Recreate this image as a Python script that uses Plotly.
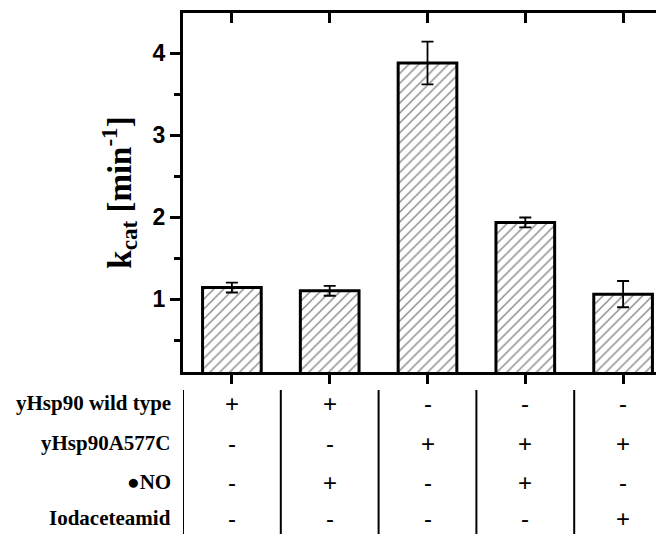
import plotly.graph_objects as go

# ---- data ----
conditions = [1, 2, 3, 4, 5]
kcat = [1.14, 1.10, 3.88, 1.935, 1.06]
kcat_err = [0.06, 0.06, 0.26, 0.06, 0.16]

row_labels = ["yHsp90 wild type", "yHsp90A577C", "●NO", "Iodaceteamid"]
wild_type = ["+", "+", "-", "-", "-"]
mutant = ["-", "-", "+", "+", "+"]
nitric_oxide = ["-", "+", "-", "+", "-"]
iodo = ["-", "-", "-", "-", "+"]
table_rows = [wild_type, mutant, nitric_oxide, iodo]

y_ticks = [1, 2, 3, 4]

# ---- layout constants (page body has an 8px margin) ----
OFF = 8
W, H = 664, 534
ML, MT, MB, MR = 175, 5, 170, 0
plot_h = H - MT - MB
plot_w = W - ML - MR
x_range = [0.5, 5.5]
y_range = [0.11, 4.49]

fig = go.Figure()
fig.add_trace(go.Bar(
    x=conditions, y=kcat, width=0.6,
    marker=dict(color="white",
                line=dict(color="black", width=3),
                pattern=dict(shape="/", fgcolor="black", bgcolor="white",
                             size=7, solidity=0.18)),
    error_y=dict(type="data", array=kcat_err, visible=True,
                 color="black", thickness=1.8, width=6),
    showlegend=False,
))

axis_font = dict(family="Liberation Sans", size=23, color="black", weight="bold")

fig.update_layout(
    width=W, height=H,
    margin=dict(l=ML, r=MR, t=MT, b=MB, pad=0),
    paper_bgcolor="white", plot_bgcolor="white",
    xaxis=dict(range=x_range, tickvals=conditions, showticklabels=False,
               ticks="outside", ticklen=9, tickwidth=3, tickcolor="black",
               showline=True, linecolor="black", linewidth=3,
               showgrid=False, zeroline=False, fixedrange=True),
    xaxis2=dict(range=x_range, overlaying="x", side="top", anchor="y",
                tickvals=conditions, showticklabels=False,
                ticks="inside", ticklen=10, tickwidth=3, tickcolor="black",
                showline=True, linecolor="black", linewidth=3,
                showgrid=False, zeroline=False, fixedrange=True),
    yaxis=dict(range=y_range, tickvals=y_ticks, ticktext=[str(v) for v in y_ticks],
               ticks="outside", ticklen=10, tickwidth=3, tickcolor="black",
               minor=dict(dtick=0.5, tick0=0, ticks="outside", ticklen=6,
                          tickwidth=3, tickcolor="black"),
               tickfont=axis_font,
               showline=True, linecolor="black", linewidth=3,
               showgrid=False, zeroline=False, fixedrange=True,
               title=dict(text="k<sub>cat</sub> [min<sup>-1</sup>]",
                          font=dict(family="Liberation Serif", size=33,
                                    color="black", weight="bold"),
                          standoff=12)),
    yaxis2=dict(range=y_range, overlaying="y", side="right", anchor="x",
                tickvals=y_ticks, showticklabels=False,
                ticks="inside", ticklen=10, tickwidth=3, tickcolor="black",
                showline=False, showgrid=False, zeroline=False, fixedrange=True),
)

# invisible trace so the secondary axes render
fig.add_trace(go.Scatter(x=[None], y=[None], xaxis="x2", yaxis="y2",
                         showlegend=False, hoverinfo="skip"))

# ---- table under the plot ----
row_px = [403, 443, 482, 518]  # screen rows
label_font = dict(family="Liberation Serif", size=21, color="black", weight="bold")
sym_font = dict(family="Liberation Sans", size=24, color="black")
label_x = (173 - OFF - ML) / plot_w

def paper_y(screen_y):
    return (H - MB - (screen_y - OFF)) / plot_h

for r, (lab, vals) in enumerate(zip(row_labels, table_rows)):
    yp = paper_y(row_px[r])
    fig.add_annotation(text=lab, x=label_x, y=yp, xref="paper", yref="paper",
                       xanchor="right", yanchor="middle", showarrow=False,
                       font=label_font)
    for c, v in zip(conditions, vals):
        fig.add_annotation(text=v, x=c, y=yp, xref="x", yref="paper",
                           xanchor="center", yanchor="middle", showarrow=False,
                           font=sym_font)

sep_top = paper_y(390)
sep_bot = paper_y(560)
for c in conditions:
    fig.add_shape(type="line", xref="x", yref="paper",
                  x0=c - 0.5, x1=c - 0.5, y0=sep_top, y1=sep_bot,
                  line=dict(color="black", width=2))

fig.write_html("out.html")
